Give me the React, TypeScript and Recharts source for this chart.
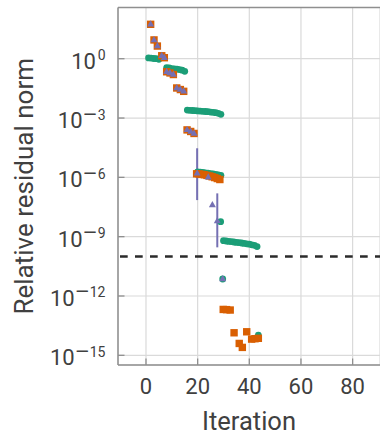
import React from "react";
import {
  ScatterChart,
  Scatter,
  XAxis,
  YAxis,
  CartesianGrid,
  ReferenceLine,
  ErrorBar,
} from "recharts";

// iteration numbers and log10 of the relative residual
const greenIter = [
  1, 2, 3, 4, 5,
  8, 9, 10, 11, 12, 13, 14, 15,
  16, 17, 18, 19, 20, 21, 22, 23, 24, 25, 26, 27, 28, 29,
  20, 21, 22, 23, 24, 25, 26, 27, 28, 29,
  28.9,
  30, 31, 32, 33, 34, 35, 36, 37, 38, 39, 40, 41, 42, 43,
  29.7,
  43.5,
];
const greenExp = [
  0.04, 0.03, 0.01, 0, -0.03,
  -0.45, -0.47, -0.5, -0.51, -0.53, -0.55, -0.58, -0.64,
  -2.6, -2.61, -2.62, -2.63, -2.64, -2.65, -2.66, -2.67, -2.68, -2.7, -2.71, -2.73, -2.76, -2.81,
  -5.72, -5.74, -5.75, -5.77, -5.79, -5.81, -5.83, -5.85, -5.87, -5.9,
  -8.24,
  -9.2, -9.22, -9.24, -9.25, -9.27, -9.29, -9.3, -9.32, -9.34, -9.36, -9.38, -9.41, -9.44, -9.5,
  -11.14,
  -13.98,
];

const orangeIter = [
  1.8, 3.1, 4.4, 6.1, 7.1, 8.0, 9.3, 10.6, 11.9, 13.3, 14.6, 15.9, 17.3, 18.6,
  19.6, 20.6, 21.6, 22.6, 23.6, 24.6, 25.6, 26.6, 27.6, 28.6,
  29.9, 31.2, 32.6, 34.1, 36.1, 37.3, 39.0, 40.9, 42.2, 43.5,
];
const orangeExp = [
  1.74, 0.95, 0.64, 0.15, 0.05, -0.66, -0.72, -0.8, -1.48, -1.56, -1.65, -3.6, -3.68, -3.78,
  -5.82, -5.83, -5.85, -5.87, -5.9, -5.93, -5.97, -6.01, -6.06, -6.11,
  -12.68, -12.69, -12.71, -13.86, -14.4, -14.6, -13.81, -14.18, -14.16, -14.14,
];

const purpleIter = [
  1.8, 3.1, 4.4, 6.1, 7.1, 8.0, 9.3, 10.6, 11.9, 13.3, 14.6, 15.9, 17.3, 18.6,
  19.8, 24.1, 25.7, 27.6, 29.7,
];
const purpleExp = [
  1.74, 0.95, 0.64, 0.15, 0.05, -0.66, -0.72, -0.8, -1.48, -1.56, -1.65, -3.6, -3.68, -3.78,
  -5.8, -6.0, -7.4, -8.21, -11.14,
];

// the two purple points with error bars
const errIter = [19.8, 27.6];
const errMidExp = [-5.8, -8.21];
const errHighExp = [-4.53, -6.81];
const errLowExp = [-7.15, -9.54];

const thresholdExp = -10;

const xTicks = [0, 20, 40, 60, 80];
const yTickExps = [0, -3, -6, -9, -12, -15];

const xDomain = [-10.84, 90.6];
const yDomain = [10 ** -15.49, 10 ** 2.59];

const GREEN = "#1b9e77";
const ORANGE = "#d95f02";
const PURPLE = "#7570b3";
const TEXT = "#404040";
const FRAME = "#8f8f8f";
const FONT = "Roboto, sans-serif";

const toPoints = (iters: number[], exps: number[]) =>
  iters.map((x, i) => ({ x, y: 10 ** exps[i] }));

const greenData = toPoints(greenIter, greenExp);
const orangeData = toPoints(orangeIter, orangeExp);
const purpleData = toPoints(purpleIter, purpleExp);
const errData = errIter.map((x, i) => {
  const y = 10 ** errMidExp[i];
  return { x, y, err: [y - 10 ** errLowExp[i], 10 ** errHighExp[i] - y] };
});

const Dot = (p: any) => <circle cx={p.cx} cy={p.cy} r={3.4} fill={GREEN} />;
const Square = (p: any) => (
  <rect x={p.cx - 3.7} y={p.cy - 3.7} width={7.4} height={7.4} fill={ORANGE} />
);
const Tri = (p: any) => (
  <polygon
    points={`${p.cx},${p.cy - 4} ${p.cx - 3.5},${p.cy + 2.2} ${p.cx + 3.5},${p.cy + 2.2}`}
    fill={PURPLE}
  />
);

const PLOT_LEFT = 118;
const PLOT_BOTTOM = 365;

function YTick(props: any) {
  const y = props.payload.coordinate;
  const e = Math.round(Math.log10(props.payload.value));
  return (
    <g>
      <line x1={PLOT_LEFT} x2={PLOT_LEFT + 6.5} y1={y} y2={y} stroke={FRAME} strokeWidth={1.3} />
      <text x={105.5} y={y + 10} textAnchor="end" fill={TEXT} fontFamily={FONT} fontSize={22}>
        <tspan>10</tspan>
        {e < 0 ? (
          <tspan dy={-8.5} fontSize={14}>
            <tspan fontFamily="DejaVu Sans" fontSize={18}>−</tspan>
            <tspan>{Math.abs(e)}</tspan>
          </tspan>
        ) : (
          <tspan dx={1.7} dy={-8.5} fontSize={14}>{e}</tspan>
        )}
      </text>
    </g>
  );
}

function XTick(props: any) {
  const x = props.payload.coordinate;
  return (
    <g>
      <line x1={x} x2={x} y1={PLOT_BOTTOM} y2={PLOT_BOTTOM - 6.5} stroke={FRAME} strokeWidth={1.3} />
      <text x={x} y={PLOT_BOTTOM + 29.3} textAnchor="middle" fill={TEXT} fontFamily={FONT} fontSize={22}>
        {props.payload.value}
      </text>
    </g>
  );
}

export default function App() {
  return (
    <div style={{ position: "absolute", left: 0, top: 0, width: 380, height: 434, overflow: "hidden", background: "#fff" }}>
      <ScatterChart width={380} height={434} margin={{ top: 7.5, right: 0, bottom: 0, left: 0 }}>
        <CartesianGrid stroke="#dadada" strokeWidth={1.2} />
        <XAxis
          type="number"
          dataKey="x"
          domain={xDomain}
          allowDataOverflow
          ticks={xTicks}
          height={69}
          tickLine={false}
          tickSize={0}
          tick={<XTick />}
          axisLine={{ stroke: FRAME, strokeWidth: 1.5 }}
          label={(p: any) => {
            const vb = p.viewBox;
            return (
              <text x={vb.x + vb.width / 2} y={vb.y + 64.5} textAnchor="middle" fill={TEXT} fontFamily={FONT} fontSize={25.5}>
                Iteration
              </text>
            );
          }}
        />
        <YAxis
          type="number"
          dataKey="y"
          scale="log"
          domain={yDomain}
          allowDataOverflow
          ticks={yTickExps.map((e) => 10 ** e)}
          width={118}
          tickLine={false}
          tickSize={0}
          tick={<YTick />}
          axisLine={{ stroke: FRAME, strokeWidth: 1.5 }}
          label={(p: any) => {
            const vb = p.viewBox;
            const cx = 33;
            const cy = vb.y + vb.height / 2;
            return (
              <text x={cx} y={cy} transform={`rotate(-90 ${cx} ${cy})`} textAnchor="middle" fill={TEXT} fontFamily={FONT} fontSize={26}>
                Relative residual norm
              </text>
            );
          }}
        />
        <ReferenceLine y={yDomain[1]} stroke={FRAME} strokeWidth={1.5} ifOverflow="visible" />
        <ReferenceLine
          y={10 ** thresholdExp}
          stroke="#2b2b2b"
          strokeWidth={2.5}
          strokeDasharray="7.7 7.3"
          strokeDashoffset={13}
        />
        <Scatter data={greenData} shape={Dot} isAnimationActive={false} />
        <Scatter data={orangeData} shape={Square} isAnimationActive={false} />
        <Scatter data={errData} shape={() => <g />} isAnimationActive={false}>
          <ErrorBar dataKey="err" direction="y" width={0} stroke={PURPLE} strokeWidth={2} isAnimationActive={false} />
        </Scatter>
        <Scatter data={purpleData} shape={Tri} isAnimationActive={false} />
      </ScatterChart>
    </div>
  );
}
